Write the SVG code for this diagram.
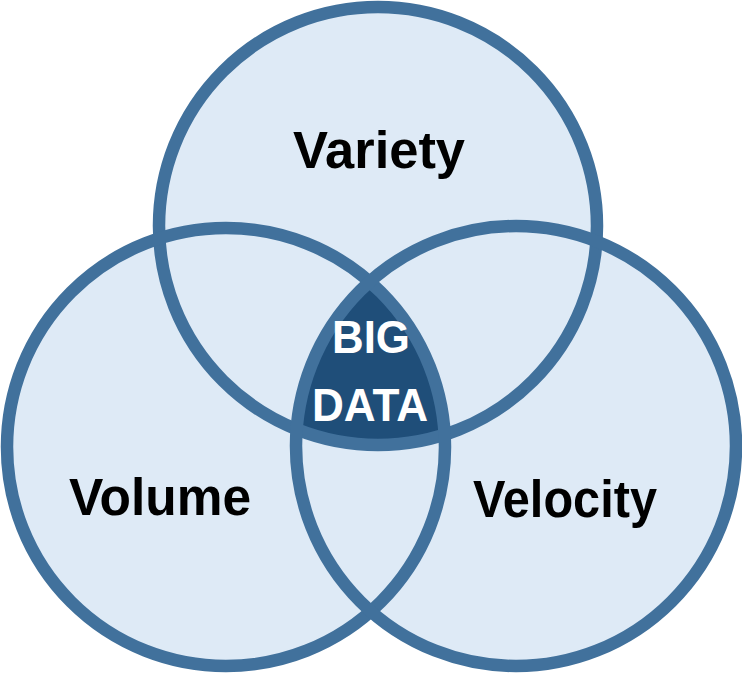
<svg xmlns="http://www.w3.org/2000/svg" width="742" height="674" viewBox="0 0 742 674">
<style>
.fill{fill:#DEEAF6;stroke:none}
.ring{fill:none;stroke:#41719C;stroke-width:12.5}
.lbl{font-family:"Liberation Sans",Arial,sans-serif;font-weight:bold;fill:#000;text-anchor:middle}
.core{font-family:"Liberation Sans",Arial,sans-serif;font-weight:bold;fill:#fff;text-anchor:middle}
</style>
<defs>
<clipPath id="cTop"><circle cx="378" cy="226" r="219"/></clipPath>
<clipPath id="cRight"><circle cx="516" cy="446" r="220"/></clipPath>
</defs>
<g id="fills">
<circle class="fill" cx="378" cy="226" r="219"/>
<circle class="fill" cx="226" cy="447" r="219"/>
<circle class="fill" cx="516" cy="446" r="220"/>
</g>
<g id="center-region" clip-path="url(#cTop)">
<circle cx="226" cy="447" r="219" fill="#1F4E79" clip-path="url(#cRight)"/>
</g>
<g id="connectors"></g>
<g id="variety">
<circle class="ring" cx="378" cy="226" r="219"/>
<text class="lbl" x="379" y="168" font-size="51" textLength="172" lengthAdjust="spacingAndGlyphs">Variety</text>
</g>
<g id="volume">
<circle class="ring" cx="226" cy="447" r="219"/>
<text class="lbl" x="160" y="515" font-size="51" textLength="182" lengthAdjust="spacingAndGlyphs">Volume</text>
</g>
<g id="velocity">
<circle class="ring" cx="516" cy="446" r="220"/>
<text class="lbl" x="565" y="517" font-size="51" textLength="184" lengthAdjust="spacingAndGlyphs">Velocity</text>
</g>
<g id="bigdata">
<text class="core" x="371" y="353" font-size="46" textLength="78" lengthAdjust="spacingAndGlyphs">BIG</text>
<text class="core" x="370" y="421" font-size="46" textLength="116" lengthAdjust="spacingAndGlyphs">DATA</text>
</g>
</svg>
